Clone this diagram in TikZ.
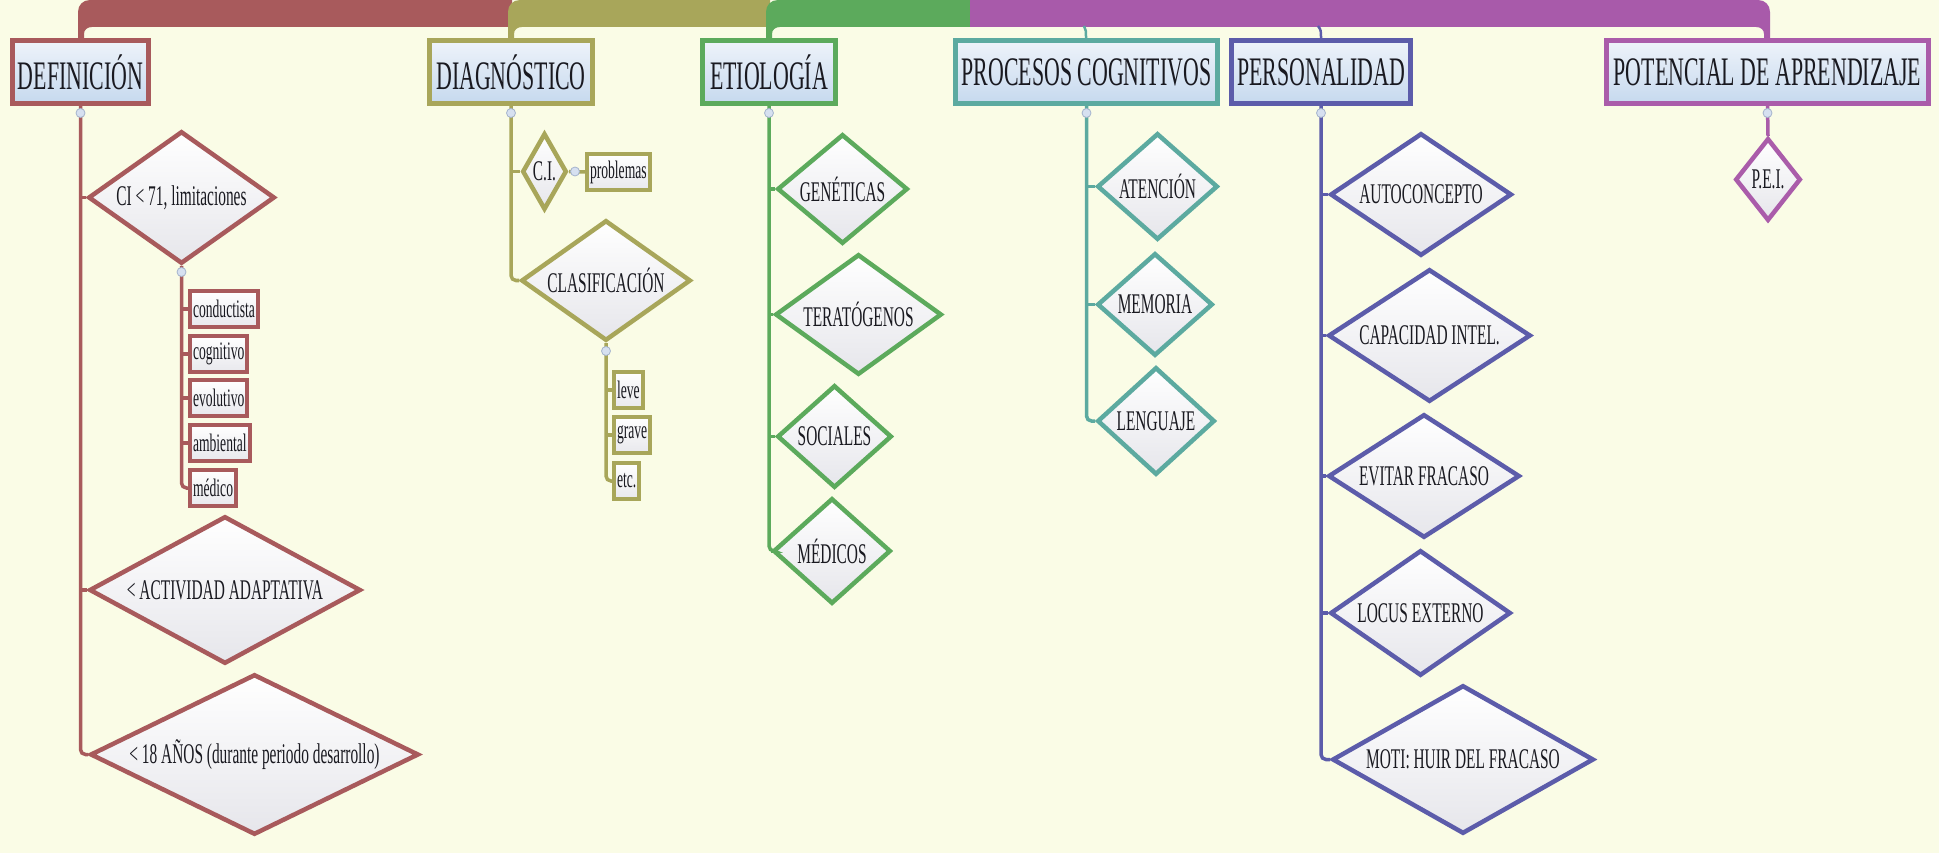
\documentclass[tikz,border=0pt]{standalone}
\usepackage{fontspec}
\setmainfont{Liberation Serif}[FakeStretch=0.54]
\usetikzlibrary{shapes.geometric}
\definecolor{bg}{RGB}{250,252,230}
\definecolor{cred}{RGB}{168,90,92}
\definecolor{colive}{RGB}{168,166,90}
\definecolor{cgreen}{RGB}{92,170,92}
\definecolor{cpurple}{RGB}{168,90,170}
\definecolor{cteal}{RGB}{92,170,160}
\definecolor{cindigo}{RGB}{92,92,170}
\definecolor{cmag}{RGB}{170,92,170}
\definecolor{tbA}{RGB}{238,243,250}
\definecolor{tbB}{RGB}{198,217,238}
\definecolor{dg}{RGB}{230,230,235}
\definecolor{lg}{RGB}{232,232,237}
\definecolor{txt}{RGB}{25,25,32}
\definecolor{kf}{RGB}{214,224,240}
\definecolor{kb}{RGB}{165,180,205}
\begin{document}
\begin{tikzpicture}[x=1pt,y=-1pt,
  topic/.style={draw=#1, line width=5pt, rectangle, inner sep=0pt, minimum height=63,
    top color=tbA, bottom color=tbB, text=txt, font=\fontsize{40.5}{42}\selectfont},
  dia/.style={draw=#1, line width=4.5pt, diamond, inner sep=0pt,
    top color=white, bottom color=dg, text=txt, font=\fontsize{28.5}{30}\selectfont},
  leaf/.style={draw=#1, line width=4pt, rectangle, inner xsep=3pt, inner ysep=0pt,
    minimum height=36, anchor=west, top color=white, bottom color=lg, text=txt,
    font=\fontsize{25.2}{26}\selectfont},
  conn/.style={draw=#1, line width=3.5pt, rounded corners=5pt},
  knob/.style={circle, draw=kb, fill=kf, line width=0.8pt, minimum size=9pt, inner sep=0pt}]
\fill[bg] (0,0) rectangle (1939,853);
\useasboundingbox (0,0) rectangle (1939,853);
% top bar
\fill[cred] (78,40) -- (78,12) .. controls (78,5) and (83,0) .. (90,0) -- (512,0) -- (512,27) -- (92,27) .. controls (87,27) and (84,30) .. (84,34) -- (84,40) -- cycle;
\fill[colive] (508,40) -- (508,12) .. controls (508,5) and (513,0) .. (520,0) -- (770,0) -- (770,27) -- (522,27) .. controls (517,27) and (514,30) .. (514,34) -- (514,40) -- cycle;
\fill[cgreen] (766,40) -- (766,12) .. controls (766,5) and (771,0) .. (778,0) -- (972,0) -- (972,27) -- (780,27) .. controls (775,27) and (772,30) .. (772,34) -- (772,40) -- cycle;
\fill[cpurple] (970,0) -- (1758,0) .. controls (1765,0) and (1770,5) .. (1770,12) -- (1770,40) -- (1764,40) -- (1764,34) .. controls (1764,30) and (1761,27) .. (1756,27) -- (970,27) -- cycle;
\draw[cteal, line width=2.5pt] (1084,26) .. controls (1086,30) .. (1086,40);
\draw[cindigo, line width=2.5pt] (1318,26) .. controls (1321,30) .. (1321,40);
% topics
\node[topic=cred, minimum width=136] (def) at (80.5,72) {DEFINICIÓN};
\node[topic=colive, minimum width=163] (diag) at (511,72) {DIAGNÓSTICO};
\node[topic=cgreen, minimum width=133] (etio) at (769,72) {ETIOLOGÍA};
\node[topic=cteal, minimum width=262] (proc) at (1086.5,72) {PROCESOS COGNITIVOS};
\node[topic=cindigo, minimum width=179] (pers) at (1321,72) {PERSONALIDAD};
\node[topic=cmag, minimum width=322] (pot) at (1767.5,72) {POTENCIAL DE APRENDIZAJE};
% definicion
\node[dia=cred, minimum width=186.5, minimum height=132.5, aspect=1.39] (d1) at (181.5,197.5) {CI < 71, limitaciones};
\node[dia=cred, minimum width=271.5, minimum height=147.5, aspect=1.82] (d2) at (225,590) {< ACTIVIDAD ADAPTATIVA};
\node[dia=cred, minimum width=328.5, minimum height=160.5, aspect=2.02] (d3) at (254.5,754.5) {< 18 AÑOS (durante periodo desarrollo)};
\node[leaf=cred] (b1) at (188,309) {conductista};
\node[leaf=cred] (b2) at (188,354) {cognitivo};
\node[leaf=cred] (b3) at (188,398) {evolutivo};
\node[leaf=cred] (b4) at (188,443) {ambiental};
\node[leaf=cred] (b5) at (188,488) {médico};
% diagnostico
\node[dia=colive, minimum width=44.5, minimum height=76.5, aspect=0.6] (dc) at (544.5,171.5) {C.I.};
\node[leaf=colive] (prob) at (585,172) {problemas};
\node[dia=colive, minimum width=169.5, minimum height=120.5, aspect=1.39] (dk) at (606,280.5) {CLASIFICACIÓN};
\node[leaf=colive] (leve) at (612,390) {leve};
\node[leaf=colive] (grave) at (612,435) {grave};
\node[leaf=colive] (etc) at (612,481) {etc.};
% etiologia
\node[dia=cgreen, minimum width=130.5, minimum height=109.5, aspect=1.18] (e1) at (842.5,189) {GENÉTICAS};
\node[dia=cgreen, minimum width=166.5, minimum height=120.5, aspect=1.37] (e2) at (858.5,314.5) {TERATÓGENOS};
\node[dia=cgreen, minimum width=114.5, minimum height=102.5, aspect=1.11] (e3) at (834.5,436.5) {SOCIALES};
\node[dia=cgreen, minimum width=117.5, minimum height=105.5, aspect=1.11] (e4) at (832,551) {MÉDICOS};
% procesos
\node[dia=cteal, minimum width=120.5, minimum height=106.5, aspect=1.13] (p1) at (1157.5,186.5) {ATENCIÓN};
\node[dia=cteal, minimum width=115.5, minimum height=102.5, aspect=1.12] (p2) at (1155,304.5) {MEMORIA};
\node[dia=cteal, minimum width=117.5, minimum height=107.5, aspect=1.09] (p3) at (1156,421) {LENGUAJE};
% personalidad
\node[dia=cindigo, minimum width=181.5, minimum height=122.5, aspect=1.46] (q1) at (1421,194.5) {AUTOCONCEPTO};
\node[dia=cindigo, minimum width=202.5, minimum height=132.5, aspect=1.51] (q2) at (1429.5,335.5) {CAPACIDAD INTEL.};
\node[dia=cindigo, minimum width=191.5, minimum height=123.5, aspect=1.53] (q3) at (1424,476) {EVITAR FRACASO};
\node[dia=cindigo, minimum width=180.5, minimum height=125.5, aspect=1.42] (q4) at (1420.5,613) {LOCUS EXTERNO};
\node[dia=cindigo, minimum width=261.5, minimum height=148.5, aspect=1.74] (q5) at (1463,759.5) {MOTI: HUIR DEL FRACASO};
% potencial
\node[dia=cmag, minimum width=65.5, minimum height=82.5, aspect=0.8] (pei) at (1768,179.5) {P.E.I.};
% connectors
\draw[conn=cred] (def.south) |- (d3.west);
\draw[conn=cred] (def.south |- d1.west) -- (d1.west);
\draw[conn=cred] (def.south |- d2.west) -- (d2.west);
\draw[conn=cred] (d1.south) |- (b5.west);
\foreach \b in {b1,b2,b3,b4} \draw[conn=cred] (d1.south |- \b.west) -- (\b.west);
\draw[conn=colive] (diag.south) |- (dk.west);
\draw[conn=colive] (diag.south |- dc.west) -- (dc.west);
\draw[conn=colive] (dc.east) -- (prob.west);
\draw[conn=colive] (dk.south) |- (etc.west);
\foreach \b in {leve,grave} \draw[conn=colive] (dk.south |- \b.west) -- (\b.west);
\draw[conn=cgreen] (etio.south) |- (e4.west);
\foreach \b in {e1,e2,e3} \draw[conn=cgreen] (etio.south |- \b.west) -- (\b.west);
\draw[conn=cteal] (proc.south) |- (p3.west);
\foreach \b in {p1,p2} \draw[conn=cteal] (proc.south |- \b.west) -- (\b.west);
\draw[conn=cindigo] (pers.south) |- (q5.west);
\foreach \b in {q1,q2,q3,q4} \draw[conn=cindigo] (pers.south |- \b.west) -- (\b.west);
\draw[conn=cmag] (pot.south) -- (pei.north);
% collapse knobs
\node[knob] (k1) at ([yshift=-7pt]def.south) {};
\node[knob] (k2) at ([yshift=-7pt]diag.south) {};
\node[knob] (k3) at ([yshift=-7pt]etio.south) {};
\node[knob] (k4) at ([yshift=-7pt]proc.south) {};
\node[knob] (k5) at ([yshift=-7pt]pers.south) {};
\node[knob] (k6) at ([yshift=-7pt]pot.south) {};
\node[knob] (k7) at ([yshift=-6pt]d1.south) {};
\node[knob] (k8) at ([xshift=6pt]dc.east) {};
\node[knob] (k9) at ([yshift=-8pt]dk.south) {};
\end{tikzpicture}
\end{document}
